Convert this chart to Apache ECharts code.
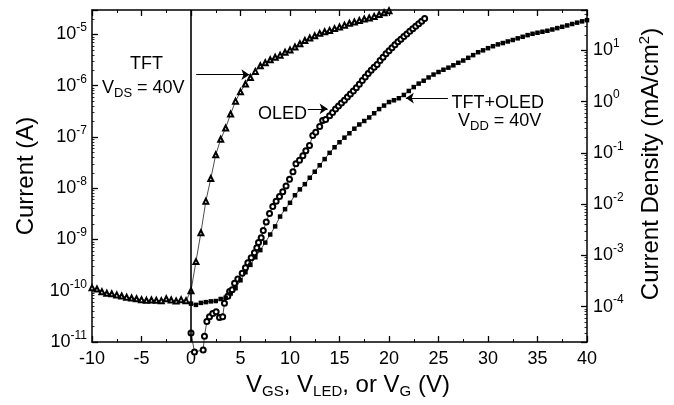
<!DOCTYPE html>
<html>
<head>
<meta charset="utf-8">
<title>TFT / OLED current</title>
<script src="https://cdn.jsdelivr.net/npm/echarts@6.0.0/dist/echarts.min.js"></script>
<style>
  body { margin: 0; background: #fff; }
  #chart { width: 674px; height: 405px; }
</style>
</head>
<body>
<div id="chart"></div>
<script>
// TFT alone, V_DS = 40V (open triangles)
const tftV = [-10, -9.5, -9, -8.5, -8, -7.5, -7, -6.5, -6, -5.5, -5, -4.5, -4, -3.5, -3, -2.5, -2, -1.5, -1, -0.5,
  0, 0.5, 1, 1.5, 2, 2.5, 3, 3.5, 4, 4.5, 5, 5.5, 6, 6.5, 7, 7.5, 8, 8.5, 9, 9.5,
  10, 10.5, 11, 11.5, 12, 12.5, 13, 13.5, 14, 14.5, 15, 15.5, 16, 16.5, 17, 17.5, 18, 18.5, 19, 19.5, 20];
const tftI = [1.15e-10, 1.08e-10, 9.6e-11, 8.9e-11, 8.7e-11, 8.3e-11, 7.9e-11, 7.5e-11, 7.2e-11, 7.0e-11,
  6.7e-11, 6.5e-11, 6.6e-11, 6.5e-11, 6.4e-11, 7.0e-11, 6.6e-11, 6.3e-11, 6.7e-11, 6.4e-11,
  1.0e-10, 3.7e-10, 1.35e-9, 5.6e-9, 1.55e-8, 4.5e-8, 9.0e-8, 1.5e-7, 2.8e-7, 5.0e-7,
  7.6e-7, 1.08e-6, 1.45e-6, 1.9e-6, 2.45e-6, 2.8e-6, 3.2e-6, 3.6e-6, 3.95e-6, 4.5e-6,
  5.0e-6, 5.7e-6, 6.6e-6, 7.6e-6, 8.5e-6, 9.4e-6, 1.05e-5, 1.13e-5, 1.2e-5, 1.3e-5,
  1.4e-5, 1.52e-5, 1.65e-5, 1.75e-5, 1.87e-5, 2.0e-5, 2.1e-5, 2.25e-5, 2.45e-5, 2.65e-5, 2.9e-5];

// OLED alone (open circles)
const oledV = [0, 0.35, 1.23, 1.36, 1.6, 1.87, 2.2, 2.54, 2.88, 3.2,
  3.38, 3.72, 3.9, 4.16, 4.4, 4.73, 5.17, 5.5, 5.74, 6.08,
  6.41, 6.65, 6.82, 7.09, 7.3, 7.6, 7.93, 8.26, 8.6, 8.94,
  9.27, 9.6, 9.95, 10.3, 10.6, 10.96, 11.3, 11.6, 11.97, 12.3,
  12.6, 13.0, 13.3, 13.6,
  14.0, 14.3, 14.6, 14.9, 15.2, 15.5, 15.8, 16.1, 16.4, 16.7,
  17.0, 17.3, 17.6, 17.9, 18.2, 18.5, 18.8, 19.1, 19.4, 19.7,
  20.0, 20.3, 20.6, 20.9, 21.2, 21.5, 21.8, 22.1, 22.4, 22.7,
  23.0, 23.3, 23.6];
const oledI = [1.5e-11, 6.4e-12, 7e-12, 1.3e-11, 2.5e-11, 3.1e-11, 3.6e-11, 3.9e-11, 3.0e-11, 3.1e-11,
  5.7e-11, 7.8e-11, 9.7e-11, 1.05e-10, 1.4e-10, 1.7e-10, 2.2e-10, 2.8e-10, 3.5e-10, 4.4e-10,
  5.5e-10, 6.9e-10, 8.7e-10, 1.08e-9, 1.5e-9, 2.2e-9, 3.2e-9, 4.4e-9, 5.6e-9, 6.9e-9,
  8.5e-9, 1.1e-8, 1.5e-8, 2.1e-8, 3.0e-8, 3.5e-8, 4.3e-8, 5.4e-8, 6.8e-8, 1.07e-7,
  1.24e-7, 1.6e-7, 2.1e-7, 2.2e-7,
  2.6e-7, 3.0e-7, 3.5e-7, 4.0e-7, 4.6e-7, 5.2e-7, 6.0e-7, 6.9e-7, 7.9e-7, 9.1e-7,
  1.07e-6, 1.26e-6, 1.48e-6, 1.74e-6, 2.0e-6, 2.3e-6, 2.6e-6, 3.1e-6, 3.6e-6, 4.2e-6,
  4.8e-6, 5.5e-6, 6.3e-6, 7.2e-6, 8.1e-6, 9.1e-6, 1.02e-5, 1.15e-5, 1.29e-5, 1.45e-5,
  1.62e-5, 1.82e-5, 2.04e-5];

// TFT+OLED, V_DD = 40V (filled squares)
const pixV = [0, 0.5, 1, 1.5, 2, 2.5, 3, 3.5, 4, 4.5, 5, 5.5, 6, 6.5, 7, 7.5, 8, 8.5, 9, 9.5,
  10, 10.5, 11, 11.5, 12, 12.5, 13, 13.5, 14, 14.5, 15, 15.5, 16, 16.5, 17, 17.5, 18, 18.5, 19, 19.5,
  20, 20.5, 21, 21.5, 22, 22.5, 23, 23.5, 24, 24.5, 25, 25.5, 26, 26.5, 27, 27.5, 28, 28.5, 29, 29.5,
  30, 30.5, 31, 31.5, 32, 32.5, 33, 33.5, 34, 34.5, 35, 35.5, 36, 36.5, 37, 37.5, 38, 38.5, 39, 39.5, 40];
const pixI = [5.6e-11, 5.3e-11, 5.8e-11, 6.0e-11, 6.2e-11, 6.3e-11, 6.9e-11, 7.3e-11, 8.8e-11, 1.12e-10,
  1.6e-10, 2.3e-10, 3.2e-10, 4.5e-10, 6.2e-10, 8.7e-10, 1.25e-9, 1.8e-9, 2.8e-9, 3.9e-9,
  5.2e-9, 7.3e-9, 9.5e-9, 1.2e-8, 1.6e-8, 2.1e-8, 2.8e-8, 3.7e-8, 4.9e-8, 6.3e-8,
  7.9e-8, 9.7e-8, 1.18e-7, 1.45e-7, 1.75e-7, 2.05e-7, 2.4e-7, 2.9e-7, 3.5e-7, 4.1e-7,
  4.8e-7, 5.2e-7, 5.7e-7, 6.6e-7, 7.9e-7, 9.4e-7, 1.1e-6, 1.25e-6, 1.45e-6, 1.65e-6,
  1.85e-6, 2.05e-6, 2.25e-6, 2.5e-6, 2.8e-6, 3.1e-6, 3.5e-6, 3.95e-6, 4.5e-6, 4.9e-6,
  5.4e-6, 5.9e-6, 6.4e-6, 6.8e-6, 7.3e-6, 7.8e-6, 8.4e-6, 9.0e-6, 9.7e-6, 1.03e-5,
  1.08e-5, 1.13e-5, 1.18e-5, 1.25e-5, 1.33e-5, 1.41e-5, 1.5e-5, 1.6e-5, 1.7e-5, 1.8e-5, 1.9e-5];

// axis ranges
const xMin = -10, xMax = 40, xStep = 5;
const currentMin = 1e-11, currentMax = 3e-5;
// current density axis (mA/cm2) shares the pixel range of the current axis
const densityMin = 2.04e-5, densityMax = 61;

const FONT = '"Liberation Sans", Arial, Helvetica, sans-serif';

function pairs(xs, ys) {
  return xs.map((x, i) => [x, ys[i]]);
}

// 10^n labels, blank for the non-decade boundary ticks
function decadeLabel(v) {
  const e = Math.log10(v);
  const r = Math.round(e);
  if (Math.abs(e - r) > 0.01) return '';
  return '{b|10}{s|' + r + '}';
}

const decadeRich = {
  b: { fontSize: 18, fontFamily: FONT, color: '#000' },
  s: { fontSize: 12, fontFamily: FONT, color: '#000', padding: [0, 0, 13, 0] }
};

const frame = { show: true, onZero: false, lineStyle: { color: '#000', width: 1.5 } };

function xAxisCfg(pos) {
  return {
    type: 'value',
    position: pos,
    min: xMin,
    max: xMax,
    interval: xStep,
    axisLine: frame,
    axisTick: { show: true, inside: true, length: 6, lineStyle: { color: '#000', width: 1.3 } },
    minorTick: { show: true, splitNumber: 2, length: 3, lineStyle: { color: '#000', width: 1 } },
    splitLine: { show: false },
    axisLabel: {
      show: pos === 'bottom',
      fontSize: 18,
      fontFamily: FONT,
      color: '#000',
      margin: 8
    }
  };
}

function yAxisCfg(pos, min, max) {
  return {
    type: 'log',
    logBase: 10,
    position: pos,
    min: min,
    max: max,
    axisLine: frame,
    axisTick: { show: true, inside: true, length: 6, lineStyle: { color: '#000', width: 1.3 } },
    minorTick: { show: true, splitNumber: 9, length: 2.5, lineStyle: { color: '#000', width: 0.8 } },
    splitLine: { show: false },
    axisLabel: {
      formatter: decadeLabel,
      rich: decadeRich,
      margin: pos === 'left' ? 5 : 6
    }
  };
}

const chart = echarts.init(document.getElementById('chart'), null, { renderer: 'canvas' });

const xBottom = xAxisCfg('bottom');
xBottom.name = '{n|V}{d|GS}{n|, V}{d|LED}{n|, or V}{d|G}{n| (V)}';
xBottom.nameLocation = 'middle';
xBottom.nameGap = 30;
xBottom.nameTextStyle = {
  padding: [0, 0, 0, 17],
  rich: {
    n: { fontSize: 24, fontFamily: FONT, color: '#000' },
    d: { fontSize: 15, fontFamily: FONT, color: '#000', padding: [12, 0, 0, 0] }
  }
};

const yLeft = yAxisCfg('left', currentMin, currentMax);
yLeft.name = 'Current (A)';
yLeft.nameLocation = 'middle';
yLeft.nameRotate = 90;
yLeft.nameGap = 52;
yLeft.nameTextStyle = { fontSize: 24, fontFamily: FONT, color: '#000' };

const yRight = yAxisCfg('right', densityMin, densityMax);
yRight.name = '{n|Current Density (mA/cm}{p|2}{n|)}';
yRight.nameLocation = 'middle';
yRight.nameRotate = 90;
yRight.nameGap = 50;
yRight.nameTextStyle = {
  padding: [0, 0, 0, 24],
  rich: {
    n: { fontSize: 24, fontFamily: FONT, color: '#000' },
    p: { fontSize: 15, fontFamily: FONT, color: '#000', padding: [0, 0, 14, 0] }
  }
};

const lineBase = {
  type: 'line',
  xAxisIndex: 0,
  yAxisIndex: 0,
  showSymbol: true,
  showAllSymbol: true,
  animation: false,
  lineStyle: { color: '#000', width: 0.7 },
  emphasis: { disabled: true }
};

chart.setOption({
  backgroundColor: '#fff',
  animation: false,
  grid: { left: 92, right: 87, top: 10, bottom: 63 },
  xAxis: [xBottom, xAxisCfg('top')],
  yAxis: [yLeft, yRight],
  series: [
    Object.assign({}, lineBase, {
      name: 'TFT',
      data: pairs(tftV, tftI),
      symbol: 'emptyTriangle',
      symbolSize: 5,
      itemStyle: { color: '#000', borderWidth: 0.6 },
      markLine: {
        silent: true,
        symbol: 'none',
        label: { show: false },
        lineStyle: { color: '#000', width: 1.6, type: 'solid' },
        data: [{ xAxis: 0 }]
      }
    }),
    Object.assign({}, lineBase, {
      name: 'OLED',
      data: pairs(oledV, oledI),
      clip: false,
      symbol: 'emptyCircle',
      symbolSize: 5,
      itemStyle: { color: '#000', borderWidth: 0.6 },
      markLine: {
        silent: true,
        symbol: ['none', 'arrow'],
        symbolSize: 8,
        label: { show: false },
        lineStyle: { color: '#000', width: 1, type: 'solid' },
        data: [
          [{ coord: [0.53, 1.64e-6] }, { coord: [5.9, 1.64e-6] }],
          [{ coord: [11.8, 3.54e-7] }, { coord: [13.8, 3.54e-7] }],
          [{ coord: [25.95, 5.74e-7] }, { coord: [21.7, 5.74e-7] }]
        ]
      }
    }),
    Object.assign({}, lineBase, {
      name: 'TFT+OLED',
      data: pairs(pixV, pixI),
      symbol: 'rect',
      symbolSize: 4.5,
      itemStyle: { color: '#000' }
    })
  ],
  graphic: [
    { type: 'text', x: 146.5, y: 64, style: { text: 'TFT', font: '18px ' + FONT, fill: '#000', align: 'center', verticalAlign: 'middle' } },
    {
      type: 'text', x: 102, y: 88,
      style: {
        text: '{n|V}{d|DS}{n| = 40V}', align: 'left', verticalAlign: 'middle',
        rich: {
          n: { fontSize: 18, fontFamily: FONT, color: '#000' },
          d: { fontSize: 13, fontFamily: FONT, color: '#000', padding: [10, 0, 0, 0] }
        }
      }
    },
    { type: 'text', x: 258, y: 114, style: { text: 'OLED', font: '18px ' + FONT, fill: '#000', align: 'left', verticalAlign: 'middle' } },
    { type: 'text', x: 451.5, y: 103.5, style: { text: 'TFT+OLED', font: '18px ' + FONT, fill: '#000', align: 'left', verticalAlign: 'middle' } },
    {
      type: 'text', x: 458, y: 121,
      style: {
        text: '{n|V}{d|DD}{n| = 40V}', align: 'left', verticalAlign: 'middle',
        rich: {
          n: { fontSize: 18, fontFamily: FONT, color: '#000' },
          d: { fontSize: 13, fontFamily: FONT, color: '#000', padding: [10, 0, 0, 0] }
        }
      }
    }
  ]
});
</script>
</body>
</html>
